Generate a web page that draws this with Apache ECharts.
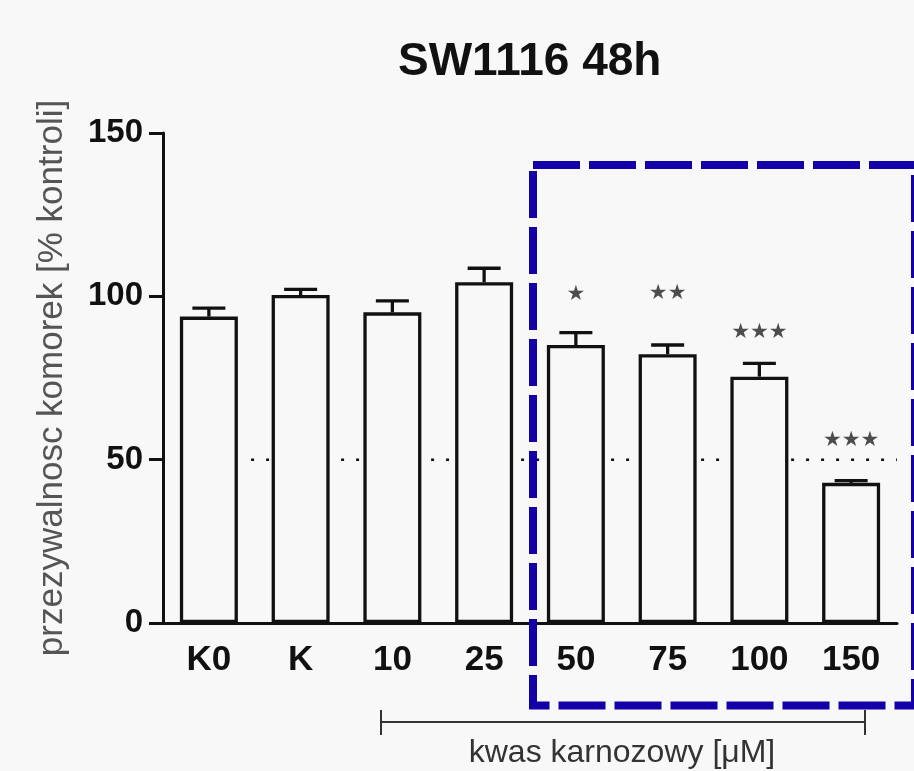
<!DOCTYPE html>
<html>
<head>
<meta charset="utf-8">
<script src="https://cdn.jsdelivr.net/npm/echarts@6/dist/echarts.min.js"></script>
<style>
html,body{margin:0;padding:0;background:#f8f8f8;}
#chart{width:914px;height:771px;}
</style>
</head>
<body>
<div id="chart"></div>
<script>
var categories = ['K0', 'K', '10', '25', '50', '75', '100', '150'];
var means = [93.8, 100.4, 95.1, 104.3, 85.1, 82.3, 75.4, 42.9];
var errors = [2.6, 1.7, 3.5, 4.3, 3.8, 2.8, 4.1, 0.7];
var starText = ['', '', '', '', '★', '★★', '★★★', '★★★'];
var starY = [null, null, null, null, 100.4, 101, 89, 56];
var yTicks = [0, 50, 100, 150];
var refLine = [[0.46, 50], [7.5, 50]];

var chart = echarts.init(document.getElementById('chart'), null, {renderer: 'canvas'});
var FONT = '"Liberation Sans", Arial, sans-serif';

var option = {
  backgroundColor: '#f8f8f8',
  animation: false,
  title: {
    text: 'SW1116 48h',
    left: 393, top: 34,
    textStyle: {fontFamily: FONT, fontWeight: 'bold', fontSize: 46, color: '#111'}
  },
  grid: {left: 163, right: 17, top: 133, bottom: 148},
  xAxis: [{
    type: 'category',
    data: categories,
    axisLine: {lineStyle: {color: '#111', width: 3}},
    axisTick: {alignWithLabel: true, length: 9, lineStyle: {width: 3, color: '#111'}},
    axisLabel: {margin: 20, fontFamily: FONT, fontWeight: 'bold', fontSize: 35, color: '#111'}
  }, {
    type: 'value', min: -0.5, max: 7.5, show: false
  }],
  yAxis: {
    type: 'value', min: 0, max: 150, interval: 50,
    name: 'przezywalnosc komorek [% kontroli]',
    nameLocation: 'middle', nameGap: 93, nameRotate: 90,
    nameTextStyle: {fontFamily: FONT, fontSize: 35, color: '#555'},
    axisLine: {show: true, onZero: false, lineStyle: {color: '#111', width: 3}},
    axisTick: {show: true, length: 14, lineStyle: {width: 3, color: '#111'}},
    splitLine: {show: false},
    axisLabel: {
      margin: 20, fontFamily: FONT, fontWeight: 'bold', fontSize: 33, color: '#111',
      formatter: function (v) { return yTicks.indexOf(v) >= 0 ? String(v) : ''; }
    }
  },
  series: [{
    type: 'line',
    xAxisIndex: 1,
    data: refLine,
    symbol: 'none',
    z: 1,
    lineStyle: {type: [3, 12], width: 2.5, color: '#111'}
  }, {
    type: 'bar',
    data: means,
    barWidth: 58,
    z: 3,
    itemStyle: {color: '#f8f8f8', borderColor: '#111', borderWidth: 3.3}
  }, {
    type: 'custom',
    z: 4,
    data: means.map(function (m, i) { return [i, m, m + errors[i]]; }),
    renderItem: function (params, api) {
      var i = api.value(0);
      var p0 = api.coord([i, api.value(1)]);
      var p1 = api.coord([i, api.value(2)]);
      var hw = 16.5;
      var style = {stroke: '#111', lineWidth: 3.3, fill: null};
      return {
        type: 'group',
        children: [
          {type: 'line', shape: {x1: p0[0], y1: p0[1], x2: p1[0], y2: p1[1]}, style: style},
          {type: 'line', shape: {x1: p1[0] - hw, y1: p1[1], x2: p1[0] + hw, y2: p1[1]}, style: style}
        ]
      };
    }
  }, {
    type: 'scatter',
    z: 5,
    symbolSize: 0,
    data: starY.map(function (v, i) { return v == null ? null : [i, v]; }),
    label: {
      show: true, position: 'inside',
      fontFamily: '"DejaVu Sans", sans-serif', fontSize: 21, color: '#222',
      formatter: function (p) { return starText[p.dataIndex]; }
    }
  }],
  graphic: [{
    type: 'rect',
    z: 100,
    shape: {x: 533, y: 165, width: 382, height: 540.5},
    style: {fill: null, stroke: '#1400a8', lineWidth: 8, lineDash: [47, 9]}
  }, {
    type: 'line',
    z: 50,
    shape: {x1: 381, y1: 722, x2: 865, y2: 722},
    style: {stroke: '#333', lineWidth: 2}
  }, {
    type: 'line', z: 50,
    shape: {x1: 381, y1: 710, x2: 381, y2: 735},
    style: {stroke: '#333', lineWidth: 2}
  }, {
    type: 'line', z: 50,
    shape: {x1: 865, y1: 710, x2: 865, y2: 735},
    style: {stroke: '#333', lineWidth: 2}
  }, {
    type: 'text', z: 50,
    x: 622, y: 753,
    style: {
      text: 'kwas karnozowy [μM]',
      font: '32px "Liberation Sans", Arial, sans-serif',
      fill: '#333', textAlign: 'center', textVerticalAlign: 'middle'
    }
  }]
};
chart.setOption(option);
</script>
</body>
</html>
